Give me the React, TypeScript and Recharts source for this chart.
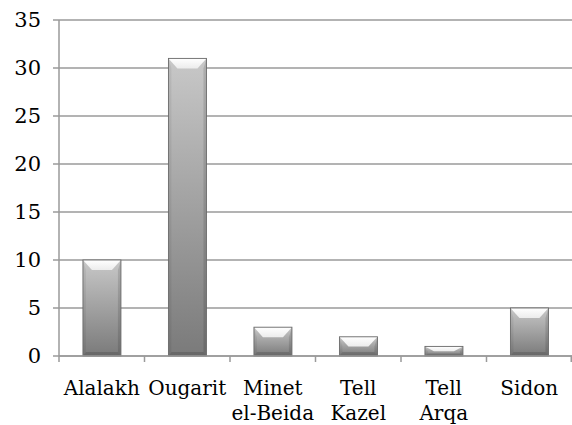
import React from 'react';
import { BarChart, Bar, XAxis, YAxis, CartesianGrid } from 'recharts';

const sites = ['Alalakh', 'Ougarit', 'Minet el-Beida', 'Tell Kazel', 'Tell Arqa', 'Sidon'];
const counts = [10, 31, 3, 2, 1, 5];
const yTicks = [0, 5, 10, 15, 20, 25, 30, 35];

const data = sites.map((site, i) => ({ site, count: counts[i] }));

// serif stand-in for Times (DejaVu Serif is the one serif that resolves reliably here)
const FONT = "'DejaVu Serif'";
const AXIS = '#9a9a9a';

if (typeof document !== 'undefined') document.body.style.margin = '0';

const BevelBar = (props: any) => {
  const { x, y, width: w, height: h } = props;
  if (!h || h <= 0) return null;
  const t = Math.min(10, h / 2);
  const s = Math.min(9, w / 2);
  const b = Math.min(4, h / 4);
  const e = 3;
  return (
    <g>
      <rect x={x} y={y} width={w} height={h} fill="url(#barBody)" />
      <polygon points={`${x},${y} ${x + e},${y + t} ${x + e},${y + h - b} ${x},${y + h}`} fill="#000" fillOpacity={0.06} />
      <polygon points={`${x + w},${y} ${x + w - e},${y + t} ${x + w - e},${y + h - b} ${x + w},${y + h}`} fill="#000" fillOpacity={0.12} />
      <polygon points={`${x},${y + h} ${x + e},${y + h - b} ${x + w - e},${y + h - b} ${x + w},${y + h}`} fill="#000" fillOpacity={0.15} />
      <polygon points={`${x},${y} ${x + w},${y} ${x + w - s},${y + t} ${x + s},${y + t}`} fill="url(#barTop)" />
      <rect x={x} y={y} width={w} height={h} fill="none" stroke="#6a6a6a" strokeWidth={0.9} />
    </g>
  );
};

const SiteTick = (props: any) => {
  const { x, y, payload, index } = props;
  const half = payload && payload.offset ? payload.offset : 42.75;
  const lines = String(payload.value).split(' ');
  const top = y - 8;
  return (
    <g>
      <line x1={x - half} x2={x - half} y1={top} y2={top + 6} stroke={AXIS} strokeWidth={1.5} />
      {index === sites.length - 1 && (
        <line x1={x + half - 0.75} x2={x + half - 0.75} y1={top} y2={top + 6} stroke={AXIS} strokeWidth={1.5} />
      )}
      <text x={x} y={top + 39} textAnchor="middle" fontFamily={FONT} fontSize={20} fill="#000">
        {lines.map((ln, i) => (
          <tspan key={i} x={x} dy={i === 0 ? 0 : 25}>
            {ln}
          </tspan>
        ))}
      </text>
    </g>
  );
};

export default function App() {
  return (
    <div style={{ width: 572, height: 425, background: '#fff' }}>
      <BarChart
        width={572}
        height={425}
        data={data}
        margin={{ top: 20, right: 0, bottom: 0, left: 0 }}
        barCategoryGap="28%"
      >
        <defs>
          <linearGradient id="barBody" x1="0" y1="0" x2="0" y2="1">
            <stop offset="0%" stopColor="#c8c8c8" />
            <stop offset="100%" stopColor="#7a7a7a" />
          </linearGradient>
          <linearGradient id="barTop" x1="0" y1="0" x2="0" y2="1">
            <stop offset="0%" stopColor="#ffffff" />
            <stop offset="100%" stopColor="#ececec" />
          </linearGradient>
        </defs>
        <CartesianGrid vertical={false} stroke={AXIS} strokeWidth={1.5} />
        <XAxis
          dataKey="site"
          height={69}
          interval={0}
          tickLine={false}
          tickSize={6}
          tickMargin={2}
          axisLine={{ stroke: AXIS, strokeWidth: 1.5 }}
          tick={<SiteTick />}
        />
        <YAxis
          width={59}
          domain={[0, 35]}
          ticks={yTicks}
          interval={0}
          tickSize={6}
          tickMargin={12}
          axisLine={{ stroke: AXIS, strokeWidth: 1.5 }}
          tickLine={{ stroke: AXIS, strokeWidth: 1.5 }}
          tick={{ fill: '#000', fontSize: 21, fontFamily: FONT }}
        />
        <Bar dataKey="count" shape={<BevelBar />} isAnimationActive={false} />
      </BarChart>
    </div>
  );
}
